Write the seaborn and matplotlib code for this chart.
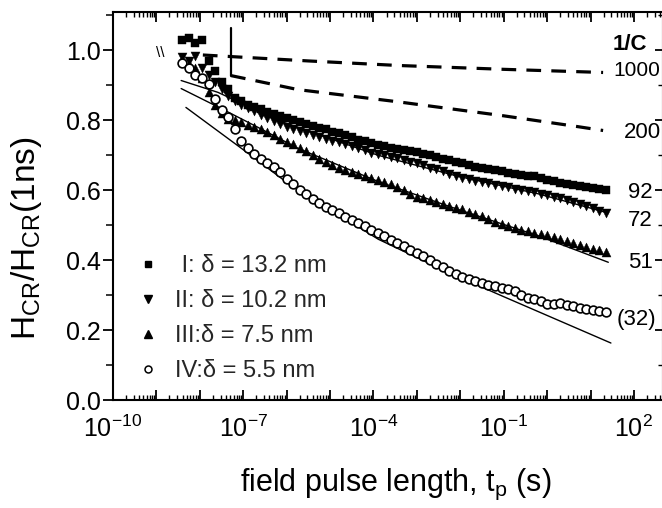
import numpy as np
import pandas as pd
import matplotlib
matplotlib.use("Agg")
import matplotlib.pyplot as plt
import seaborn as sns
from matplotlib.ticker import FixedLocator, FuncFormatter, MultipleLocator, NullFormatter
from matplotlib.lines import Line2D

# ---------------- data ----------------
pulse_exp = [-8.4, -8.25, -8.1, -7.95, -7.8, -7.65, -7.5, -7.35, -7.2, -7.05,
             -6.9, -6.75, -6.6, -6.45, -6.3, -6.15, -6.0, -5.85, -5.7, -5.55,
             -5.4, -5.25, -5.1, -4.95, -4.8, -4.65, -4.5, -4.35, -4.2, -4.05,
             -3.9, -3.75, -3.6, -3.45, -3.3, -3.15, -3.0, -2.85, -2.7, -2.55,
             -2.4, -2.25, -2.1, -1.95, -1.8, -1.65, -1.5, -1.35, -1.2, -1.05,
             -0.9, -0.75, -0.6, -0.45, -0.3, -0.15, 0.0, 0.15, 0.3, 0.45,
             0.6, 0.75, 0.9, 1.05, 1.2, 1.35]

h_I = [1.03, 1.035, 1.02, 1.03, 0.97, 0.94, 0.91, 0.89, 0.865, 0.855,
       0.845, 0.838, 0.832, 0.825, 0.818, 0.812, 0.806, 0.800, 0.795, 0.790,
       0.784, 0.779, 0.774, 0.768, 0.763, 0.757, 0.752, 0.745, 0.741, 0.734,
       0.729, 0.726, 0.722, 0.719, 0.716, 0.712, 0.709, 0.704, 0.700, 0.694,
       0.690, 0.686, 0.682, 0.677, 0.672, 0.667, 0.663, 0.660, 0.657, 0.654,
       0.650, 0.646, 0.643, 0.640, 0.641, 0.634, 0.630, 0.626, 0.622, 0.619,
       0.615, 0.612, 0.609, 0.606, 0.603, 0.601]

h_II = [0.98, 0.97, 0.985, 0.95, 0.93, 0.91, 0.89, 0.87, 0.855, 0.845,
        0.835, 0.826, 0.815, 0.806, 0.797, 0.789, 0.782, 0.776, 0.770, 0.764,
        0.758, 0.753, 0.748, 0.742, 0.737, 0.732, 0.727, 0.720, 0.714, 0.708,
        0.703, 0.700, 0.696, 0.692, 0.688, 0.682, 0.677, 0.671, 0.665, 0.660,
        0.654, 0.647, 0.642, 0.636, 0.632, 0.627, 0.624, 0.620, 0.616, 0.612,
        0.608, 0.604, 0.600, 0.597, 0.594, 0.590, 0.586, 0.581, 0.577, 0.572,
        0.567, 0.562, 0.556, 0.549, 0.542, 0.536]

h_III = [0.975, 0.96, 0.95, 0.92, 0.88, 0.845, 0.82, 0.805, 0.80, 0.795,
         0.788, 0.782, 0.775, 0.768, 0.758, 0.748, 0.739, 0.731, 0.722, 0.712,
         0.701, 0.690, 0.680, 0.672, 0.665, 0.659, 0.652, 0.647, 0.641, 0.635,
         0.629, 0.624, 0.617, 0.610, 0.600, 0.590, 0.581, 0.577, 0.573, 0.567,
         0.562, 0.556, 0.550, 0.545, 0.539, 0.532, 0.525, 0.518, 0.510, 0.503,
         0.497, 0.492, 0.487, 0.483, 0.478, 0.474, 0.471, 0.465, 0.460, 0.455,
         0.449, 0.444, 0.438, 0.433, 0.428, 0.424]

h_IV = [0.965, 0.95, 0.93, 0.92, 0.905, 0.86, 0.83, 0.81, 0.775, 0.74,
        0.72, 0.705, 0.69, 0.678, 0.667, 0.652, 0.633, 0.618, 0.602, 0.589,
        0.576, 0.563, 0.553, 0.543, 0.534, 0.524, 0.514, 0.505, 0.497, 0.487,
        0.477, 0.468, 0.459, 0.450, 0.440, 0.430, 0.421, 0.411, 0.400, 0.390,
        0.380, 0.370, 0.360, 0.353, 0.347, 0.340, 0.334, 0.330, 0.326, 0.320,
        0.318, 0.312, 0.300, 0.292, 0.288, 0.282, 0.274, 0.276, 0.278, 0.272,
        0.268, 0.264, 0.260, 0.257, 0.254, 0.251]

series_labels = [" I: \u03b4 = 13.2 nm", "II: \u03b4 = 10.2 nm",
                 "III:\u03b4 = 7.5 nm", "IV:\u03b4 = 5.5 nm"]

# thin solid fit curves
fitII_exp = [-8.43, -7.58, -6.2, -3.89, -2.05, -0.21, 1.41]
fitII_val = [0.914, 0.88, 0.80, 0.70, 0.64, 0.59, 0.535]
fitIII_exp = [-8.43, -7.51, -6.66, -5.74, -3.89, -2.05, -0.21, 1.41]
fitIII_val = [0.891, 0.834, 0.78, 0.72, 0.625, 0.545, 0.47, 0.394]
fitIV_exp = [-8.32, -6.89, -5.97, -3.89, -2.28, -0.97, 1.47]
fitIV_val = [0.837, 0.706, 0.62, 0.46, 0.365, 0.294, 0.163]

# dashed curves (1/C = 1000 and 200)
c1000_exp = [-7.93, -5.5, -3.43, -1.0, 1.29]
c1000_val = [0.987, 0.970, 0.957, 0.946, 0.937]
c200_exp = [-7.28, -5.74, -3.43, -1.0, 0.71, 1.29]
c200_val = [0.928, 0.888, 0.853, 0.813, 0.782, 0.771]
bracket_exp = [-7.28, -7.28]
bracket_val = [1.063, 0.926]

curve_labels = ["1/C", "1000", "200", "92", "72", "51", "(32)"]
xtick_exp = list(range(-10, 3))

# ---------------- style ----------------
sns.set_theme(style="ticks")
plt.rcParams["font.family"] = ["Liberation Sans", "DejaVu Sans"]
plt.rcParams["mathtext.fontset"] = "custom"
plt.rcParams["mathtext.rm"] = "Liberation Sans"
plt.rcParams["mathtext.it"] = "Liberation Sans:italic"
plt.rcParams["mathtext.bf"] = "Liberation Sans:bold"
plt.rcParams["mathtext.default"] = "regular"

W, H = 662, 508
fig = plt.figure(figsize=(W / 100, H / 100), dpi=100)
L, R, T, B = 113, 663, 12, 400
ax = fig.add_axes([L / W, (H - B) / H, (R - L) / W, (B - T) / H])


def pax(px, py):
    return ((px - L) / (R - L), (B - py) / (B - T))


def tv(exps):
    return [10.0 ** e for e in exps]


t = tv(pulse_exp)

# fit lines
for ex, va in [(fitII_exp, fitII_val), (fitIII_exp, fitIII_val), (fitIV_exp, fitIV_val)]:
    sns.lineplot(x=tv(ex), y=va, ax=ax, color="black", lw=1.0, sort=False,
                 estimator=None, zorder=1)

# dashed lines
for ex, va in [(c1000_exp, c1000_val), (c200_exp, c200_val)]:
    sns.lineplot(x=tv(ex), y=va, ax=ax, color="black", lw=2.3, sort=False,
                 estimator=None, linestyle=(0, (4.6, 3.2)), zorder=1)
sns.lineplot(x=tv(bracket_exp), y=bracket_val, ax=ax, color="black", lw=1.6,
             sort=False, estimator=None, zorder=1)

# data markers
sns.scatterplot(x=t, y=h_I, ax=ax, marker="s", s=28, color="black",
                edgecolor="black", linewidth=0.3, zorder=3)
sns.scatterplot(x=t, y=h_II, ax=ax, marker="v", s=42, color="black",
                edgecolor="black", linewidth=0.3, zorder=3)
sns.scatterplot(x=t, y=h_III, ax=ax, marker="^", s=42, color="black",
                edgecolor="black", linewidth=0.3, zorder=3)
sns.scatterplot(x=t, y=h_IV, ax=ax, marker="o", s=40, color="white",
                edgecolor="black", linewidth=1.2, zorder=4)

# axes
ax.set_xscale("log")
ax.set_xlim(1e-10, 10 ** 2.67)
ax.set_ylim(0, 1.11)
for sp in ax.spines.values():
    sp.set_linewidth(1.5)
    sp.set_color("black")

ax.xaxis.set_major_locator(FixedLocator([10.0 ** k for k in xtick_exp]))
ax.xaxis.set_minor_locator(FixedLocator([m * 10.0 ** k for k in xtick_exp for m in range(2, 10)]))


def xfmt(v, pos):
    k = int(round(np.log10(v)))
    return rf"$10^{{{k}}}$" if (k + 10) % 3 == 0 else ""


ax.xaxis.set_major_formatter(FuncFormatter(xfmt))
ax.xaxis.set_minor_formatter(NullFormatter())
ax.yaxis.set_major_locator(MultipleLocator(0.2))
ax.yaxis.set_minor_locator(MultipleLocator(0.1))
ax.yaxis.set_major_formatter(FuncFormatter(lambda v, p: f"{v:.1f}"))

ax.tick_params(axis="x", which="both", direction="in", top=True, bottom=True,
               colors="black", labelsize=18, pad=11)
ax.tick_params(axis="x", which="major", length=7, width=1.3)
ax.tick_params(axis="x", which="minor", length=3.5, width=1.0)
ax.tick_params(axis="y", which="both", direction="out", left=True, right=False,
               colors="black", labelsize=18, pad=2)
ax.tick_params(axis="y", which="major", length=7, width=1.3)
ax.tick_params(axis="y", which="minor", length=5, width=1.1)

ax2 = ax.twinx()
ax2.set_ylim(ax.get_ylim())
ax2.yaxis.set_major_locator(MultipleLocator(0.2))
ax2.yaxis.set_minor_locator(MultipleLocator(0.1))
ax2.tick_params(axis="y", which="both", direction="in", labelright=False, colors="black")
ax2.tick_params(axis="y", which="major", length=6, width=1.3)
ax2.tick_params(axis="y", which="minor", length=3.5, width=1.0)
for sp in ax2.spines.values():
    sp.set_visible(False)

ax.set_ylabel(r"$H_{CR}/H_{CR}(1ns)$", fontsize=24, color="black")
ax.yaxis.set_label_coords(*pax(44, 238))
ax.set_xlabel(r"field pulse length, $t_p$ (s)", fontsize=22, color="black")
ax.xaxis.set_label_coords(*pax(396, 467))

# legend
handles = [
    Line2D([], [], ls="none", marker="s", ms=4.5, color="black"),
    Line2D([], [], ls="none", marker="v", ms=5.5, color="black"),
    Line2D([], [], ls="none", marker="^", ms=5.5, color="black"),
    Line2D([], [], ls="none", marker="o", ms=5.0, markerfacecolor="white",
           markeredgecolor="black", markeredgewidth=1.1),
]
ax.legend(handles, series_labels, loc="upper left", bbox_to_anchor=pax(136, 255),
          frameon=False, fontsize=17, handlelength=1.0, handletextpad=0.65,
          labelspacing=0.55, borderpad=0, borderaxespad=0)

# curve annotations
label_pos = [(613, 45), (613, 70), (624, 133), (628, 193), (628, 220), (628, 262), (617, 320)]
label_size = [16, 15, 16, 16, 16, 16, 16]
for i, (txt, (px, py)) in enumerate(zip(curve_labels, label_pos)):
    ax.text(*pax(px, py), txt, transform=ax.transAxes, fontsize=label_size[i],
            ha="left", va="center", fontweight="bold" if i == 0 else "normal",
            color="black")

ax.text(*pax(160, 53), "\\\\", transform=ax.transAxes, fontsize=11, ha="center",
        va="center", color="black")

fig.savefig("out.png", dpi=100)
